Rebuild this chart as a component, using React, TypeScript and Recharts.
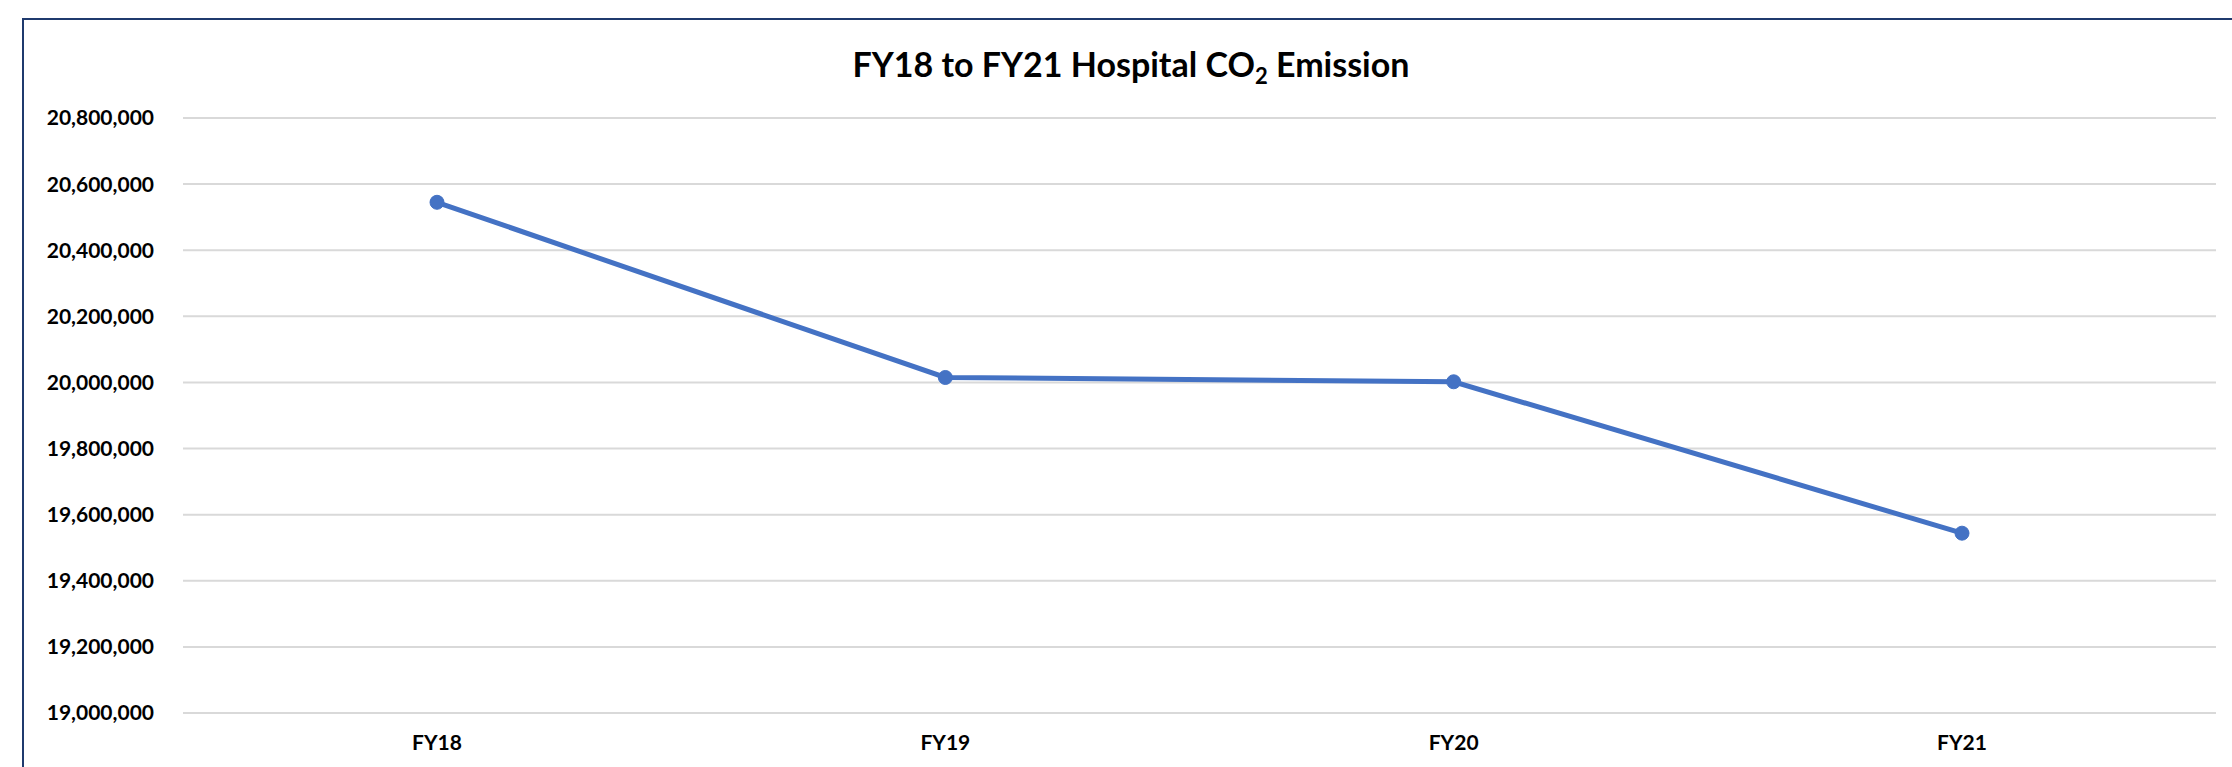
import React from 'react';
import { LineChart, Line, XAxis, YAxis, CartesianGrid } from 'recharts';

const categories = ['FY18', 'FY19', 'FY20', 'FY21'];
const emissions = [20545000, 20015000, 20002000, 19544000];
const yTicks = [19000000, 19200000, 19400000, 19600000, 19800000, 20000000, 20200000, 20400000, 20600000, 20800000];

const data = categories.map((c, i) => ({ name: c, value: emissions[i] }));

const FONT = 'Lato, "Open Sans", sans-serif';
const fmt = (v: number) => v.toLocaleString('en-US');

export default function App() {
  return (
    <div style={{ position: 'absolute', left: 0, top: 0, width: 2232, height: 767, overflow: 'hidden', background: '#ffffff' }}>
      <div
        style={{
          position: 'absolute',
          left: 22,
          top: 18,
          width: 3000,
          height: 1000,
          borderTop: '2px solid #1f3a6e',
          borderLeft: '2px solid #1f3a6e',
          boxSizing: 'border-box',
        }}
      />
      <svg style={{ position: 'absolute', left: 0, top: 0 }} width={2232} height={120}>
        <text x={1131} y={77} textAnchor="middle" fontFamily={FONT} fontWeight={700} fontSize={34} fill="#000">
          <tspan>FY18 to FY21 Hospital CO</tspan>
          <tspan fontSize={22} dy={7}>2</tspan>
          <tspan dy={-7}> Emission</tspan>
        </text>
      </svg>
      <div style={{ position: 'absolute', left: 0, top: 0 }}>
        <LineChart width={2232} height={767} data={data} margin={{ top: 118, right: 16, bottom: 0, left: 0 }}>
          <CartesianGrid horizontal vertical={false} stroke="#d9d9d9" strokeWidth={2} />
          <XAxis
            dataKey="name"
            axisLine={false}
            tickLine={false}
            padding={{ left: 254, right: 254 }}
            tickSize={6}
            tickMargin={16}
            height={54}
            interval={0}
            tick={{ fontFamily: FONT, fontWeight: 700, fontSize: 21, fill: '#000' }}
          />
          <YAxis
            width={183}
            domain={[19000000, 20800000]}
            ticks={yTicks}
            tickFormatter={fmt}
            axisLine={false}
            tickLine={false}
            tickSize={6}
            tickMargin={23}
            interval={0}
            tick={{ fontFamily: FONT, fontWeight: 700, fontSize: 21, fill: '#000' }}
          />
          <Line
            type="linear"
            dataKey="value"
            stroke="#4472c4"
            strokeWidth={5}
            dot={{ r: 7, fill: '#4472c4', stroke: '#4472c4', strokeWidth: 1 }}
            activeDot={false}
            isAnimationActive={false}
          />
        </LineChart>
      </div>
    </div>
  );
}
